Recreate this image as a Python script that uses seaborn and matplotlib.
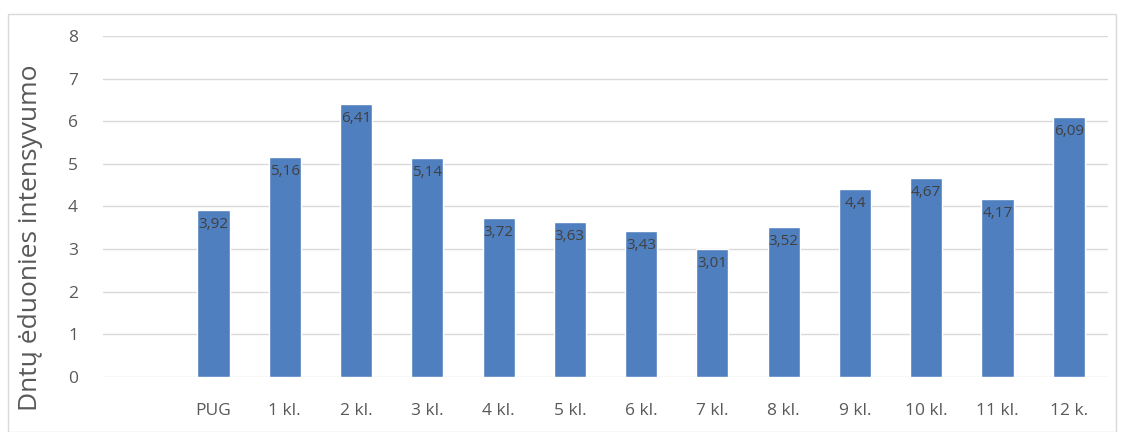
import matplotlib
matplotlib.use("Agg")
import matplotlib.pyplot as plt
import seaborn as sns
import pandas as pd
from matplotlib.patches import Rectangle

categories = ["PUG", "1 kl.", "2 kl.", "3 kl.", "4 kl.", "5 kl.", "6 kl.",
              "7 kl.", "8 kl.", "9 kl.", "10 kl.", "11 kl.", "12 k."]
values = [3.92, 5.16, 6.41, 5.14, 3.72, 3.63, 3.43, 3.01, 3.52, 4.40, 4.67, 4.17, 6.09]
value_labels = ["3,92", "5,16", "6,41", "5,14", "3,72", "3,63", "3,43",
                "3,01", "3,52", "4,4", "4,67", "4,17", "6,09"]
y_ticks = [0, 1, 2, 3, 4, 5, 6, 7, 8]
y_label = "Dntų ėduonies intensyvumo"

sns.set_theme(style="white")
plt.rcParams['font.family'] = ['Open Sans', 'DejaVu Sans']

df = pd.DataFrame({"cat": categories, "val": values})

fig = plt.figure(figsize=(11.24, 4.32), dpi=100)
fig.patches.append(Rectangle((8 / 1124, 0.0), 1 - 16 / 1124, 1 - 14 / 432,
                             transform=fig.transFigure, fill=False,
                             edgecolor="#D9D9D9", linewidth=1.0))
ax = fig.add_axes([103 / 1124, 55 / 432, (1108 - 103) / 1124, (377 - 36) / 432])

sns.barplot(data=df, x="cat", y="val", color="#4F7FBF", width=0.45,
            saturation=1, ax=ax, zorder=3)

ax.set_xlim(-1.55, 12.55)
ax.set_ylim(0, 8)
ax.set_yticks(y_ticks)
ax.yaxis.grid(True, color="#D9D9D9", linewidth=1.0, zorder=0)
ax.set_axisbelow(True)
for s in ax.spines.values():
    s.set_visible(False)
ax.tick_params(axis="both", length=0, colors="#595959", labelsize=12.5)
ax.tick_params(axis="y", pad=18)
ax.tick_params(axis="x", pad=19)
ax.set_xlabel("")
ax.set_ylabel("")

for i, (v, lab) in enumerate(zip(values, value_labels)):
    ax.annotate(lab, (i, v), xytext=(0, -5), textcoords="offset points",
                ha="center", va="top", fontsize=11, color="#404040", zorder=4)

fig.text(31 / 1124, (432 - 238) / 432, y_label, rotation=90, ha="center",
         va="center", fontsize=19, color="#595959")

fig.savefig("out.png", dpi=100)
